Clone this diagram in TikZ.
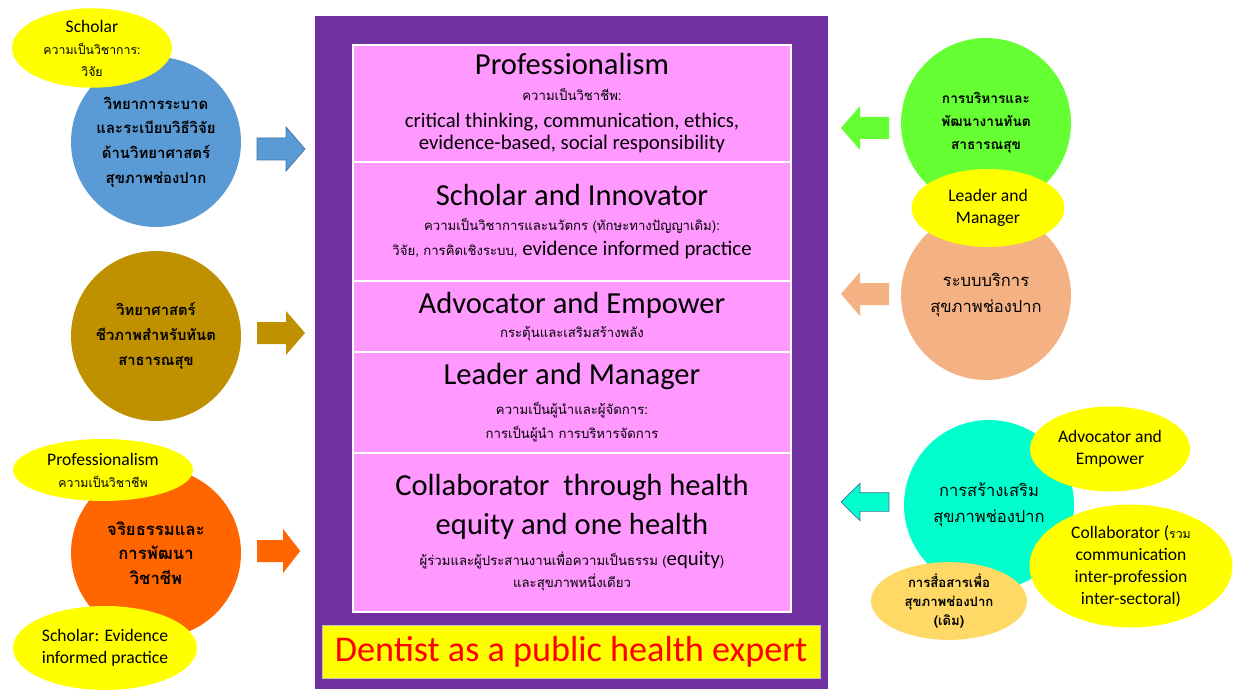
\documentclass[tikz,border=0pt]{standalone}
\usepackage{fontspec}
\setmainfont{Carlito}
\newfontfamily\thaifont[Script=Thai]{Loma}
\usetikzlibrary{shapes.geometric}
\definecolor{framepurple}{HTML}{7030A0}
\definecolor{rowpink}{HTML}{FF99FF}
\definecolor{tagyellow}{HTML}{FFFF00}
\definecolor{tagorange}{HTML}{FFD966}
\definecolor{discblue}{HTML}{5B9BD5}
\definecolor{discgold}{HTML}{BF9000}
\definecolor{discorange}{HTML}{FF6600}
\definecolor{discgreen}{HTML}{66FF33}
\definecolor{discsalmon}{HTML}{F4B183}
\definecolor{discteal}{HTML}{00FFCC}
\definecolor{arrowline}{HTML}{41719C}
\newcommand\hd{\fontsize{17.4}{20}\selectfont}
\newcommand\thsm{\thaifont\fontsize{7.5}{10}\selectfont}
\newcommand\thxs{\thaifont\fontsize{7}{9}\selectfont}

\begin{document}
\begin{tikzpicture}
      [x=0.02cm,y=-0.02cm,
      every node/.style={align=center,inner sep=0pt},
      disc/.style={circle,minimum size=3.4cm,font=\thaifont\bfseries\fontsize{8.5}{14}\selectfont},
      tag/.style={ellipse,fill=tagyellow,font=\fontsize{10}{12.5}\selectfont},
      row/.style={rectangle,fill=rowpink,draw=white,line width=1pt,minimum width=8.76cm,font=\fontsize{11.8}{12.5}\selectfont},
      pics/fatarrow/.style={code={\path[pic actions] (0,-11) -- (29,-11) -- (29,-22) -- (48,0) -- (29,22) -- (29,11) -- (0,11) -- cycle;}}]
   \useasboundingbox (0,0) rectangle (1246,689);
   \fill[framepurple] (315,16) rectangle (828,689);

   \node[row,minimum height=2.34cm] (prof) at (572,103.5)
   {{\hd Professionalism}\\[2pt]{\thsm ความเป็นวิชาชีพ:}\\[3.2pt]critical thinking, communication, ethics,\\evidence-based, social responsibility};
   \node[row,minimum height=2.38cm] (scholar) at (572,221.5)
   {{\hd Scholar and Innovator}\\[2.2pt]{\thsm ความเป็นวิชาการและนวัตกร (ทักษะทางปัญญาเดิม):}\\[1.6pt]{\thsm วิจัย, การคิดเชิงระบบ,} evidence informed practice};
   \node[row,minimum height=1.42cm] (advocator) at (572,316.5)
   {{\hd Advocator and Empower}\\[1.6pt]{\thsm กระตุ้นและเสริมสร้างพลัง}};
   \node[row,minimum height=2.02cm] (leader) at (572,402.5)
   {{\hd Leader and Manager}\\[4.5pt]{\thsm ความเป็นผู้นำและผู้จัดการ:}\\[1.1pt]{\thsm การเป็นผู้นำ การบริหารจัดการ}};
   \node[row,minimum height=3.18cm] (collab) at (572,532.5)
   {{\hd Collaborator\ \ through health}\\[6.5pt]{\hd equity and one health}\\[5.1pt]{\thsm ผู้ร่วมและผู้ประสานงานเพื่อความเป็นธรรม (}equity{\thsm )}\\{\thsm และสุขภาพหนึ่งเดียว}};
   \node[fill=tagyellow,draw=black!25,minimum width=9.96cm,minimum height=1.06cm,text=red,font=\fontsize{20.6}{24}\selectfont] (motto) at (571,651.5) {Dentist as a public health expert};

   \node[disc,fill=discblue] (epi) at (156,142) {วิทยาการระบาด\\และระเบียบวิธีวิจัย\\ด้านวิทยาศาสตร์\\สุขภาพช่องปาก};
   \node[tag,minimum width=3.2cm,minimum height=1.5cm] (tagScholar) at (92,48) {Scholar\\{\thxs ความเป็นวิชาการ:}\\{\thxs วิจัย}};
   \node[disc,fill=discgold,font=\thaifont\bfseries\fontsize{8.4}{14}\selectfont] (bio) at (156,336) {วิทยาศาสตร์\\ชีวภาพสำหรับทันต\\สาธารณสุข};
   \node[disc,fill=discorange,font=\thaifont\bfseries\fontsize{9.5}{14}\selectfont] (ethic) at (156,553) {จริยธรรมและ\\การพัฒนา\\วิชาชีพ};
   \node[tag,minimum width=3.6cm,minimum height=1.24cm] (tagProf) at (103,470) {Professionalism\\{\thxs ความเป็นวิชาชีพ}};
   \node[tag,minimum width=3.68cm,minimum height=1.68cm] (tagEvid) at (105,648) {Scholar: Evidence\\informed practice};

   \node[disc,fill=discgreen,font=\thaifont\bfseries\fontsize{7.8}{13}\selectfont] (mgmt) at (986,123) {การบริหารและ\\พัฒนางานทันต\\สาธารณสุข};
   \node[disc,fill=discsalmon,font=\thaifont\fontsize{9.4}{15}\selectfont] (service) at (986,295) {ระบบบริการ\\สุขภาพช่องปาก};
   \node[tag,minimum width=3.06cm,minimum height=1.56cm] (tagLead) at (988,208) {Leader and\\Manager};
   \node[disc,fill=discteal,font=\thaifont\fontsize{9.4}{15}\selectfont] (promo) at (989,505) {การสร้างเสริม\\สุขภาพช่องปาก};
   \node[tag,minimum width=3.2cm,minimum height=1.7cm] (tagAdv) at (1110,449) {Advocator and\\Empower};
   \node[tag,minimum width=4.06cm,minimum height=2.46cm] (tagCollab) at (1131,566) {Collaborator ({\thxs รวม}\\communication\\inter-profession\\inter-sectoral)};
   \node[tag,fill=tagorange,minimum width=3.12cm,minimum height=1.54cm,font=\thaifont\bfseries\fontsize{7.5}{11}\selectfont] (tagComm) at (949,601) {การสื่อสารเพื่อ\\สุขภาพช่องปาก\\(เดิม)};

   \pic[fill=discblue,draw=arrowline,line width=0.4pt] (arrEpi) at (257,149) {fatarrow};
   \pic[fill=discgold] (arrBio) at (257,333) {fatarrow};
   \pic[fill=discorange,xscale=0.9] (arrEthic) at (257,551) {fatarrow};
   \pic[fill=discgreen,rotate=180] (arrMgmt) at (889,128) {fatarrow};
   \pic[fill=discsalmon,rotate=180] (arrService) at (889,294) {fatarrow};
   \pic[fill=discteal,draw=arrowline,line width=0.4pt,rotate=180,yscale=0.85] (arrPromo) at (889,502) {fatarrow};
\end{tikzpicture}
\end{document}
